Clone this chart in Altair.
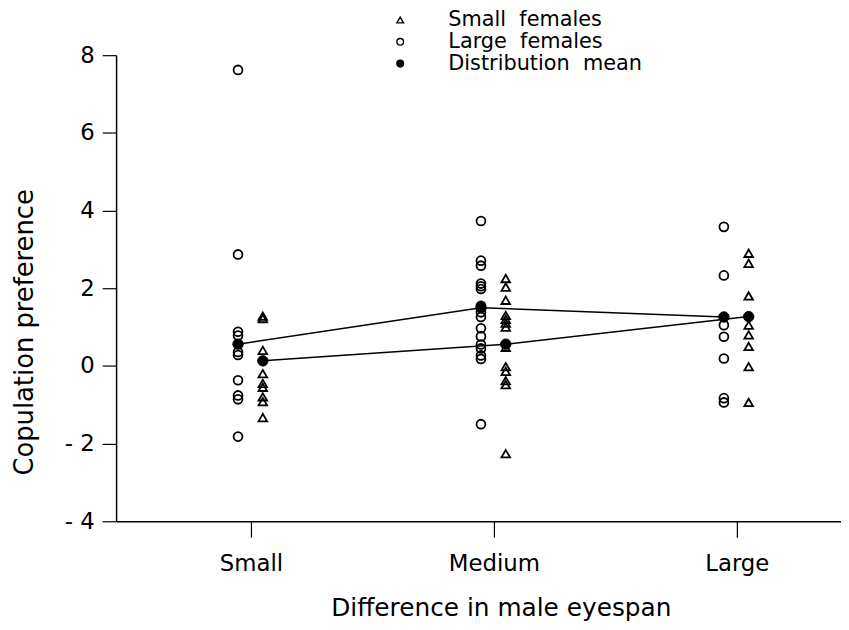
import altair as alt
import pandas as pd

categories = ["Small", "Medium", "Large"]
kinds = ["Small\u00a0\u00a0females", "Large\u00a0\u00a0females", "Distribution\u00a0\u00a0mean"]

# Individual preferences, large females (open circles)
large_f_small = [7.62, 2.87, 0.88, 0.78, 0.36, 0.28, -0.37, -0.76, -0.86, -1.82]
large_f_medium = [3.73, 2.71, 2.58, 2.12, 2.05, 1.98, 1.55, 1.38, 1.26, 0.97, 0.76, 0.55, 0.45, 0.27, 0.18, -1.50]
large_f_large = [3.58, 2.33, 1.05, 0.75, 0.19, -0.83, -0.94]

# Individual preferences, small females (open triangles)
small_f_small = [1.28, 1.22, 0.40, -0.20, -0.45, -0.55, -0.80, -0.92, -1.33]
small_f_medium = [2.25, 2.03, 1.69, 1.30, 1.20, 1.10, 1.00, 0.48, -0.02, -0.14, -0.38, -0.48, -2.26]
small_f_large = [2.90, 2.64, 1.80, 1.05, 0.80, 0.50, -0.02, -0.94]

# Distribution means
large_f_means = [0.56, 1.50, 1.26]
small_f_means = [0.13, 0.56, 1.27]


def frame(groups, kind):
    rows = []
    for cat, vals in zip(categories, groups):
        for v in vals:
            rows.append({"cat": cat, "y": v, "kind": kind})
    return pd.DataFrame(rows)


df_large = frame([large_f_small, large_f_medium, large_f_large], kinds[1])
df_small = frame([small_f_small, small_f_medium, small_f_large], kinds[0])
df_mean_large = pd.DataFrame({"cat": categories, "y": large_f_means, "kind": kinds[2]})
df_mean_small = pd.DataFrame({"cat": categories, "y": small_f_means, "kind": kinds[2]})

FONT = "DejaVu Sans"

x_enc = alt.X(
    "cat:N",
    sort=categories,
    scale=alt.Scale(type="point", domain=categories, padding=0.492, align=0.564),
    axis=alt.Axis(
        title="Difference in male eyespan",
        labelAngle=0,
        tickSize=16,
        labelPadding=16,
        titlePadding=20,
        titleX=388,
        labelFontSize=23,
        titleFontSize=25,
    ),
)
y_enc = alt.Y(
    "y:Q",
    scale=alt.Scale(domain=[-4, 8], nice=False, zero=False),
    axis=alt.Axis(
        title="Copulation preference",
        values=[-4, -2, 0, 2, 4, 6, 8],
        labelExpr="datum.value < 0 ? '- ' + abs(datum.value) : datum.label",
        tickSize=14,
        labelPadding=8,
        titlePadding=27,
        titleY=279,
        labelFontSize=23,
        titleFontSize=26,
    ),
)

legend = alt.Legend(
    title=None,
    orient="none",
    legendX=276,
    legendY=-46,
    labelFontSize=21,
    labelFont=FONT,
    labelColor="black",
    labelLimit=400,
    symbolSize=45,
    symbolStrokeWidth=1.4,
    labelOffset=38,
    rowPadding=0,
    padding=0,
)

shape_enc = alt.Shape("kind:N", scale=alt.Scale(domain=kinds, range=["triangle-up", "circle", "circle"]), legend=legend)
fill_enc = alt.Fill("kind:N", scale=alt.Scale(domain=kinds, range=["white", "white", "black"]), legend=legend)
stroke_enc = alt.Stroke("kind:N", scale=alt.Scale(domain=kinds, range=["black", "black", "black"]), legend=legend)

OFF_L = -13
OFF_S = 12

line_large = alt.Chart(df_mean_large).mark_line(color="black", strokeWidth=1.5, xOffset=OFF_L).encode(x=x_enc, y=y_enc)
line_small = alt.Chart(df_mean_small).mark_line(color="black", strokeWidth=1.5, xOffset=OFF_S).encode(x=x_enc, y=y_enc)


def pts(df, size, sw, off):
    return alt.Chart(df).mark_point(
        filled=True, strokeWidth=sw, opacity=1, fillOpacity=0 if df["kind"].iloc[0] != kinds[2] else 1,
        size=size, xOffset=off
    ).encode(x=x_enc, y=y_enc, shape=shape_enc, fill=fill_enc, stroke=stroke_enc)


pts_large = pts(df_large, 80, 1.8, OFF_L)
pts_small = pts(df_small, 75, 1.8, OFF_S)
mean_large = pts(df_mean_large, 110, 1, OFF_L)
mean_small = pts(df_mean_small, 110, 1, OFF_S)

chart = (
    alt.layer(line_large, line_small, pts_large, pts_small, mean_large, mean_small)
    .properties(
        width=731,
        height=470,
        autosize=alt.AutoSizeParams(type="none"),
        padding={"left": 109, "top": 45, "right": 0, "bottom": 100},
        background="white",
    )
    .configure_view(stroke=None)
    .configure_axis(
        grid=False,
        domainColor="black",
        domainWidth=1.5,
        tickColor="black",
        tickWidth=1.2,
        labelColor="black",
        titleColor="black",
        labelFont=FONT,
        titleFont=FONT,
        titleFontWeight="normal",
    )
)

chart.save("out.html", embed_options={"renderer": "svg", "actions": False})
